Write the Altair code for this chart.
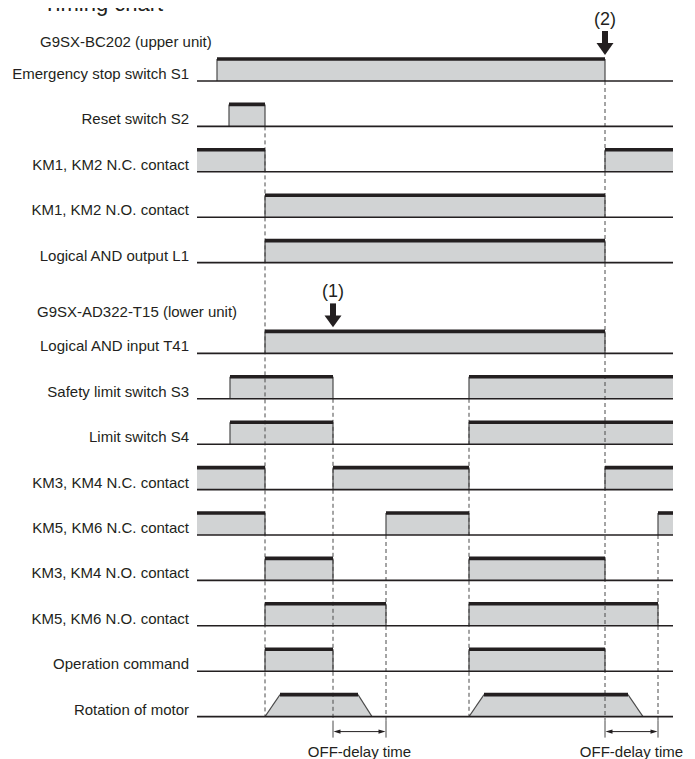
import altair as alt
import pandas as pd

# ---------------- data (times in arbitrary units) ----------------
T_START, T_END = 0, 476

row_labels = [
    "Emergency stop switch S1", "Reset switch S2", "KM1, KM2 N.C. contact",
    "KM1, KM2 N.O. contact", "Logical AND output L1",
    "Logical AND input T41", "Safety limit switch S3", "Limit switch S4",
    "KM3, KM4 N.C. contact", "KM5, KM6 N.C. contact", "KM3, KM4 N.O. contact",
    "KM5, KM6 N.O. contact", "Operation command", "Rotation of motor",
]
group_labels = ["G9SX-BC202 (upper unit)", "G9SX-AD322-T15 (lower unit)"]

s1 = [(20, 408)]
s2 = [(32, 68)]
km12_nc = [(0, 68), (408, 476)]
km12_no = [(68, 408)]
and_l1 = [(68, 408)]
and_t41 = [(68, 408)]
s3 = [(33, 136), (272, 476)]
s4 = [(33, 136), (272, 476)]
km34_nc = [(0, 68), (136, 272), (408, 476)]
km56_nc = [(0, 68), (189, 272), (461, 476)]
km34_no = [(68, 136), (272, 408)]
km56_no = [(68, 189), (272, 461)]
op_cmd = [(68, 136), (272, 408)]
# motor: ramp-up start, full speed, ramp-down start, stopped
motor = [(68, 83, 161, 175), (272, 287, 431, 446)]

signals = [s1, s2, km12_nc, km12_no, and_l1, and_t41, s3, s4,
           km34_nc, km56_nc, km34_no, km56_no, op_cmd]

event_times = [68, 136, 189, 272, 408, 461]
event_first_row = [1, 6, 9, 6, 0, 9]
off_delay = [(136, 189), (408, 461)]
off_delay_label = "OFF-delay time"
marker_text = ["(1)", "(2)"]
marker_time = [136, 408]
marker_row = [5, 0]
title_text = "Timing chart"

# ---------------- layout ----------------
W, H = 679, 751
ROW_PX = 45.4
TOP_PX = 73          # plot-pixel position of the first row baseline
LEVEL = 22 / ROW_PX  # high level height in row units
FONT = "Liberation Sans"
DARK = "#231f20"
FILL = "#d1d3d4"
EDGE = "#4a4a4a"


def px(p):
    return p / ROW_PX


def base(i):
    return i if i < 5 else i + 1


MOTOR_ROW = 13
BR_TOP = base(MOTOR_ROW) + px(4)
BR_BOT = base(MOTOR_ROW) + px(21)
BR_Y = base(MOTOR_ROW) + px(15)

xscale = alt.Scale(domain=[-189, -189 + W], nice=False, zero=False)
yscale = alt.Scale(domain=[-TOP_PX / ROW_PX, (H - TOP_PX) / ROW_PX],
                   reverse=True, nice=False, zero=False)


def X(f="x"):
    return alt.X(f"{f}:Q", scale=xscale, axis=None)


def Y(f="y"):
    return alt.Y(f"{f}:Q", scale=yscale, axis=None)


# pulses
rects, tops, edges = [], [], []
for i, iv in enumerate(signals):
    b = base(i)
    for a, e in iv:
        rects.append(dict(x=a, x2=e, y=b - LEVEL, y2=b))
        tops.append(dict(x=a, x2=e, y=b - LEVEL))
        for t in (a, e):
            if T_START < t < T_END:
                edges.append(dict(x=t, y=b - LEVEL, y2=b))

mb = base(MOTOR_ROW)
area_pts, slant_pts = [], []
for g, (a, b_, c, d) in enumerate(motor):
    for t, lv in ((a, 0), (b_, 1), (c, 1), (d, 0)):
        area_pts.append(dict(x=t, y=mb - LEVEL * lv, y2=mb, g=g))
    tops.append(dict(x=b_, x2=c, y=mb - LEVEL))
    slant_pts += [dict(x=a, y=mb, g=f"{g}u", o=0), dict(x=b_, y=mb - LEVEL, g=f"{g}u", o=1),
                  dict(x=c, y=mb - LEVEL, g=f"{g}d", o=0), dict(x=d, y=mb, g=f"{g}d", o=1)]

baselines = [dict(x=T_START, x2=T_END, y=base(i)) for i in range(len(row_labels))]

delay_ends = {t for iv in off_delay for t in iv}
dashes, ticks = [], []
for t, r in zip(event_times, event_first_row):
    y_end = BR_TOP if t in delay_ends else mb
    dashes.append(dict(x=t, y=base(r), y2=y_end))
    if t in delay_ends:
        ticks.append(dict(x=t, y=BR_TOP, y2=BR_BOT))

br_lines, heads_l, heads_r, br_text = [], [], [], []
for a, e in off_delay:
    br_lines.append(dict(x=a + 4, x2=e - 4, y=BR_Y))
    heads_l.append(dict(x=a + 4, y=BR_Y))
    heads_r.append(dict(x=e - 4, y=BR_Y))
    br_text.append(dict(x=(a + e) / 2, y=BR_Y + px(20), label=off_delay_label))

shafts, heads_big, mk_text = [], [], []
for txt, t, r in zip(marker_text, marker_time, marker_row):
    b = base(r)
    shafts.append(dict(x=t, y=b - px(50), y2=b - px(36)))
    heads_big.append(dict(x=t, y=b - px(32)))
    mk_text.append(dict(x=t, y=b - px(61), label=txt))

labels = [dict(x=-8, y=base(i) - px(2), label=l) for i, l in enumerate(row_labels)]
groups = [dict(x=-157, y=px(42 - 81), label=group_labels[0]),
          dict(x=-160, y=base(5) + px(313 - 354), label=group_labels[1])]
title = [dict(x=-154, y=px(11 - 81), label=title_text)]

D = pd.DataFrame

layers = [
    alt.Chart(D(rects)).mark_rect(color=FILL).encode(x=X(), x2="x2:Q", y=Y(), y2="y2:Q"),
    alt.Chart(D(area_pts)).mark_area(color=FILL, opacity=1).encode(
        x=X(), y=Y(), y2="y2:Q", detail="g:N"),
    alt.Chart(D(dashes)).mark_rule(color=EDGE, strokeWidth=1, strokeDash=[4, 3]).encode(
        x=X(), y=Y(), y2="y2:Q"),
    alt.Chart(D(ticks)).mark_rule(color=EDGE, strokeWidth=1).encode(x=X(), y=Y(), y2="y2:Q"),
    alt.Chart(D(edges)).mark_rule(color=EDGE, strokeWidth=1.2).encode(x=X(), y=Y(), y2="y2:Q"),
    alt.Chart(D(slant_pts)).mark_line(color=EDGE, strokeWidth=1.1).encode(
        x=X(), y=Y(), detail="g:N", order="o:Q"),
    alt.Chart(D(baselines)).mark_rule(color=DARK, strokeWidth=1.6).encode(x=X(), x2="x2:Q", y=Y()),
    alt.Chart(D(tops)).mark_rule(color=DARK, strokeWidth=3.6).encode(x=X(), x2="x2:Q", y=Y()),
    alt.Chart(D(br_lines)).mark_rule(color=DARK, strokeWidth=1).encode(x=X(), x2="x2:Q", y=Y()),
    alt.Chart(D(heads_l)).mark_point(shape="M-1,0L1,-0.6L1,0.6Z", size=49, filled=True,
                                     color=DARK, opacity=1).encode(x=X(), y=Y()),
    alt.Chart(D(heads_r)).mark_point(shape="M1,0L-1,-0.6L-1,0.6Z", size=49, filled=True,
                                     color=DARK, opacity=1).encode(x=X(), y=Y()),
    alt.Chart(D(shafts)).mark_rule(color=DARK, strokeWidth=6).encode(x=X(), y=Y(), y2="y2:Q"),
    alt.Chart(D(heads_big)).mark_point(shape="M-1,-0.7L1,-0.7L0,0.7Z", size=289, filled=True,
                                       color=DARK, opacity=1).encode(x=X(), y=Y()),
    alt.Chart(D(mk_text)).mark_text(font=FONT, fontSize=18, color=DARK, baseline="middle").encode(
        x=X(), y=Y(), text="label:N"),
    alt.Chart(D(labels)).mark_text(font=FONT, fontSize=15, color=DARK, align="right",
                                   baseline="alphabetic").encode(x=X(), y=Y(), text="label:N"),
    alt.Chart(D(groups)).mark_text(font=FONT, fontSize=15, color=DARK, align="left",
                                   baseline="middle").encode(x=X(), y=Y(), text="label:N"),
    alt.Chart(D(br_text)).mark_text(font=FONT, fontSize=15, color=DARK, baseline="middle").encode(
        x=X(), y=Y(), text="label:N"),
    alt.Chart(D(title)).mark_text(font=FONT, fontSize=22, color=DARK, align="left",
                                  baseline="alphabetic").encode(x=X(), y=Y(), text="label:N"),
]

chart = alt.layer(*layers).properties(
    width=W, height=H, padding=0, autosize=alt.AutoSizeParams(type="none"), background="white"
).configure_view(strokeWidth=0)

chart.save("out.html", embed_options={"renderer": "svg", "actions": False})
